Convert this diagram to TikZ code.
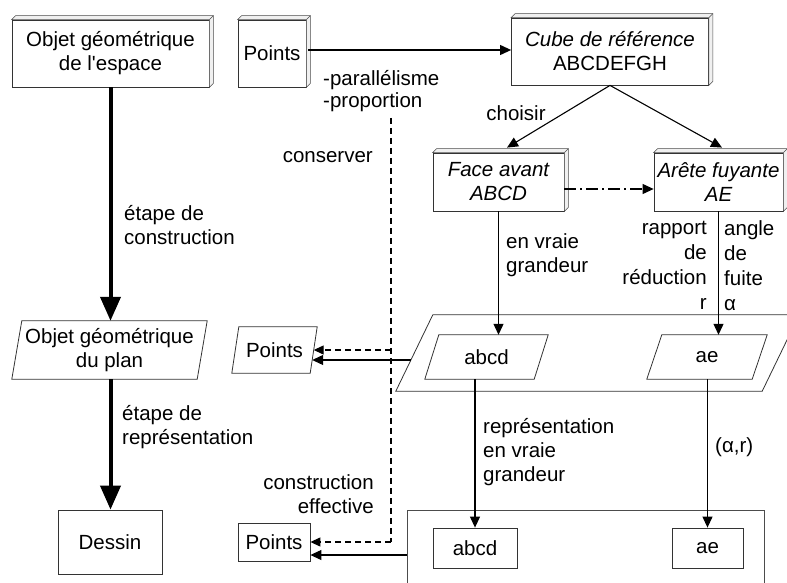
\documentclass[tikz,border=0pt]{standalone}
\usepackage{fontspec}
\setmainfont{Liberation Sans}
\usetikzlibrary{arrows.meta,calc}
\newcommand\mydepth[1]{%
  \draw[black!70, line width=0.6pt, fill=black!6] (#1.north west) -- ++(4,-4) -- ($(#1.north east)+(4,-4)$) -- ($(#1.south east)+(4,-4)$) -- (#1.south east) -- (#1.north east) -- cycle;
  \draw[black!70, line width=0.6pt] (#1.north east) -- ++(4,-4);}
\newcommand\mypara[2]{%
  \draw[black!80, line width=0.8pt] (#1.south west) -- ($(#1.north west)+(#2,0)$) -- (#1.north east) -- ($(#1.south east)-(#2,0)$) -- cycle;}
\begin{document}
\begin{tikzpicture}[x=1pt,y=-1pt,
  font=\fontsize{20.5}{24}\selectfont,
  box/.style={draw=black!80, line width=0.8pt, fill=white, inner sep=0pt, align=center},
  ghost/.style={inner sep=0pt, align=center},
  arr/.style={-{Triangle[length=11pt,width=10pt]}, line width=1.1pt},
  bigarr/.style={-{Triangle[length=24pt,width=20pt]}, line width=4pt},
  dasharr/.style={-{Triangle[length=10pt,width=9pt]}, line width=1.2pt, dash pattern=on 6pt off 4pt},
  lbl/.style={inner sep=0pt, align=left, anchor=west},
  rlbl/.style={inner sep=0pt, align=right, anchor=east},
]
\useasboundingbox (0,0) rectangle (787,583);
\clip (0,0) rectangle (787,583);

% ---------- left column ----------
\node[box, minimum width=197, minimum height=67] (esp) at (110.5,53.5) {Objet géométrique\\de l\textquotesingle espace};
\mydepth{esp}
\node[ghost, minimum width=195, minimum height=58] (plan2) at (109.5,350) {Objet géométrique\\du plan};
\mypara{plan2}{10}
\node[box, minimum width=104, minimum height=64] (dessin) at (110,542) {Dessin};

\draw[bigarr] (esp.south) -- (esp.south |- plan2.north);
\draw[bigarr] (esp.south |- plan2.south) -- (esp.south |- dessin.north);
\node[lbl] at (124,225) {étape de\\construction};
\node[lbl] at (122,427) {étape de\\représentation};

% ---------- top right ----------
\node[box, minimum width=68, minimum height=67] (pts1) at (272,53.5) {Points};
\mydepth{pts1}
\node[box, minimum width=197, minimum height=67] (cube) at (610,51.5) {\itshape Cube de référence\\ABCDEFGH};
\mydepth{cube}
\node[box, minimum width=131, minimum height=58] (face) at (498.5,182) {\itshape Face avant\\\itshape ABCD};
\mydepth{face}
\node[box, minimum width=129, minimum height=58] (arete) at (718.5,182) {\itshape Arête fuyante\\\itshape AE};
\mydepth{arete}

\draw[arr] ([xshift=2pt]pts1.east |- 0,50) -- (cube.west |- 0,50);
\draw[arr] (cube.south) -- ($(face.north)+(8.5,-5)$);
\draw[arr] (cube.south) -- ($(arete.north)+(3.5,-5)$);
\node[inner sep=0pt] at (516,113) {choisir};
\draw[arr, dash pattern=on 12pt off 4pt on 2pt off 4pt] ([yshift=-7pt]face.east) -- ([yshift=-7pt]arete.west);

% ---------- plan (parallelogram) ----------
\node[ghost, minimum width=403, minimum height=76] (plan) at (597.5,353) {};
\mypara{plan}{37}
\node[ghost, minimum width=123, minimum height=44] (abcd1) at (486.5,357) {abcd};
\mypara{abcd1}{14}
\node[ghost, minimum width=120, minimum height=44] (ae1) at (707,357) {ae};
\mypara{ae1}{15}

\draw[arr] (face.south) -- (face.south |- abcd1.north);
\draw[arr] (arete.south) -- (arete.south |- ae1.north);
\node[lbl] at (506,255) {en vraie\\grandeur};
\node[rlbl, font=\fontsize{20.5}{25}\selectfont] at (707,265.5) {rapport\\de\\réduction\\r};
\node[lbl, font=\fontsize{20.5}{25}\selectfont] at (724,265.5) {angle\\de\\fuite\\α};

% ---------- bottom frame ----------
\node[draw=black!70, line width=0.8pt, inner sep=0pt, minimum width=357, minimum height=90] (bot) at (585.5,555) {};
\node[box, minimum width=84, minimum height=40] (abcd2) at (475,548) {abcd};
\node[box, minimum width=71, minimum height=40] (ae2) at (707.5,548) {ae};

\draw[arr] (abcd2.north |- abcd1.south) -- (abcd2.north);
\draw[arr] (ae2.north |- ae1.south) -- (ae2.north);
\node[lbl] at (483,452) {représentation\\en vraie\\grandeur};
\node[lbl] at (715,447) {(α,r)};

% ---------- points (plan, dessin) ----------
\node[ghost, minimum width=85, minimum height=46] (pts2) at (274.5,350) {Points};
\mypara{pts2}{7}
\node[box, minimum width=72, minimum height=38] (pts3) at (274,542) {Points};

\coordinate (dtop) at (391,118);
\coordinate (dmid) at (391,350);
\coordinate (dbot) at (391,542);
\coordinate (planL) at (411,360);

\draw[line width=1.6pt, dash pattern=on 6pt off 4pt] (dtop) -- (dbot);
\draw[dasharr] (dbot) -- (pts3.east);
\draw[dasharr] (dmid) -- ($(pts2.east)+(-3.5,0)$);
\draw[arr] (planL) -- ($(pts2.east |- planL)+(-5,0)$);
\draw[arr] (bot.west) -- (bot.west -| pts3.east);

\node[lbl, font=\fontsize{20.5}{22}\selectfont] at (323,91) {-parallélisme\\-proportion};
\node[rlbl] at (373,157) {conserver};
\node[rlbl] at (374,494) {construction\\effective};
\end{tikzpicture}
\end{document}
